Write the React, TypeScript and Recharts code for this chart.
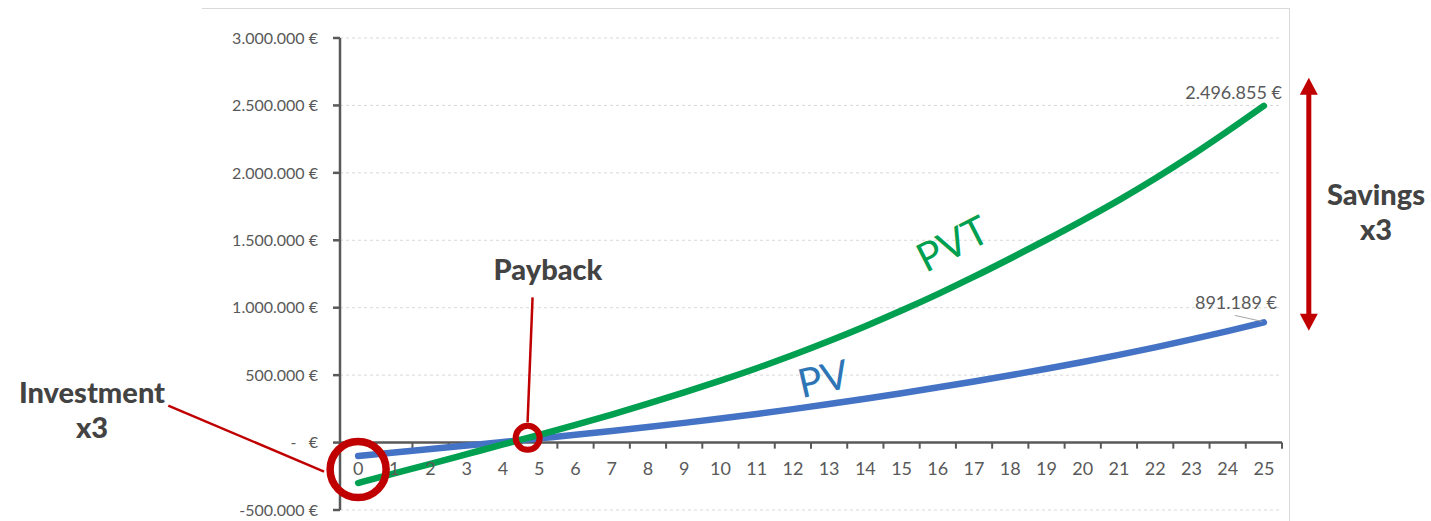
import React from 'react';
import {
  LineChart,
  Line,
  XAxis,
  YAxis,
  CartesianGrid,
  ReferenceLine,
  ReferenceDot,
  LabelList,
} from 'recharts';

// years of the study
const years = [0, 1, 2, 3, 4, 5, 6, 7, 8, 9, 10, 11, 12, 13, 14, 15, 16, 17, 18, 19, 20, 21, 22, 23, 24, 25];

// cumulative cash flow, EUR
const pvtValues = [
  -300000, -229000, -158000, -86000, -14000, 57000, 131000, 208000, 288000, 372000, 459000, 551000, 649000,
  753000, 863000, 979000, 1101000, 1230000, 1365000, 1504000, 1648000, 1798000, 1958000, 2128000, 2309000,
  2496855,
];
const pvValues = [
  -100000, -74000, -48000, -22000, 4000, 31000, 58000, 86000, 115000, 146000, 178000, 212000, 248000, 286000,
  325000, 366000, 409000, 453000, 499000, 547000, 597000, 650000, 706000, 765000, 827000, 891189,
];

const yTicks = [-500000, 0, 500000, 1000000, 1500000, 2000000, 2500000, 3000000];

// annotation anchors in data units
const paybackPoint = { x: 4.68, y: 35000 };
const investmentPoint = { x: 0, y: -200000 };
const paybackLeader = [{ x: 4.815, y: 1077000 }, { x: 4.677, y: 150000 }];
const investmentLeader = [{ x: -5.24, y: 274000 }, { x: -0.94, y: -215000 }];
const savingsArrow = [{ x: 26.24, y: 2706000 }, { x: 26.24, y: 830000 }];

const GREEN = '#00a050';
const BLUE = '#4472c4';
const RED = '#c00000';
const AXIS = '#595959';
const FONT = 'Lato, "Open Sans", sans-serif';

const chartData = years.map((year, i) => ({ year, pvt: pvtValues[i], pv: pvValues[i] }));
const tickEdges = [...years.map((y) => y - 0.5), years[years.length - 1] + 0.5];

function formatEuro(v: number) {
  if (v === 0) return '-\u00a0\u00a0\u00a0€';
  const s = String(Math.abs(v)).replace(/\B(?=(\d{3})+(?!\d))/g, '.');
  return `${v < 0 ? '-' : ''}${s} €`;
}

const PvtEndLabel = (props: any) => {
  const { x, y, value } = props;
  if (value !== pvtValues[pvtValues.length - 1]) return null;
  return (
    <text x={x + 18} y={y - 7} textAnchor="end" fill={AXIS} fontSize={18} fontFamily={FONT}>
      {formatEuro(value)}
    </text>
  );
};

const PvEndLabel = (props: any) => {
  const { x, y, value } = props;
  if (value !== pvValues[pvValues.length - 1]) return null;
  return (
    <g>
      <line x1={x - 29} y1={y - 7} x2={x - 2} y2={y - 1} stroke="#a6a6a6" strokeWidth={1} />
      <text x={x + 13} y={y - 13} textAnchor="end" fill={AXIS} fontSize={18} fontFamily={FONT}>
        {formatEuro(value)}
      </text>
    </g>
  );
};

const DoubleArrow = (props: any) => {
  const { x1, y1, x2, y2 } = props;
  const head = 17;
  const half = 9;
  return (
    <g>
      <line x1={x1} y1={y1 + head - 2} x2={x2} y2={y2 - head + 2} stroke={RED} strokeWidth={5} />
      <polygon points={`${x1},${y1} ${x1 - half},${y1 + head} ${x1 + half},${y1 + head}`} fill={RED} />
      <polygon points={`${x2},${y2} ${x2 - half},${y2 - head} ${x2 + half},${y2 - head}`} fill={RED} />
    </g>
  );
};

export default function App() {
  return (
    <div style={{ position: 'absolute', left: 0, top: 0, width: 1431, height: 521, background: '#fff', overflow: 'hidden' }}>
      <div
        style={{
          position: 'absolute',
          left: 202,
          top: 8,
          width: 1087,
          height: 520,
          borderTop: '1px solid #d9d9d9',
          borderRight: '1px solid #d9d9d9',
        }}
      />
      <div style={{ position: 'absolute', left: 0, top: 0 }}>
        <LineChart width={1431} height={521} data={chartData} margin={{ top: 38, right: 149, bottom: 11, left: 0 }}>
          <CartesianGrid vertical={false} stroke="#d9d9d9" strokeDasharray="3 3" />
          <XAxis dataKey="year" type="number" domain={[-0.5, 25.5]} hide allowDataOverflow />
          <YAxis
            type="number"
            domain={[-500000, 3000000]}
            ticks={yTicks}
            interval={0}
            width={340}
            tickFormatter={formatEuro}
            tickSize={7}
            tickMargin={15}
            axisLine={{ stroke: AXIS, strokeWidth: 2.5 }}
            tickLine={{ stroke: AXIS, strokeWidth: 2.5 }}
            tick={{ fill: AXIS, fontSize: 16, fontFamily: FONT }}
            allowDataOverflow
          />
          <ReferenceLine y={0} stroke={AXIS} strokeWidth={2.5} />
          {tickEdges.map((x) => (
            <ReferenceLine
              key={`edge-${x}`}
              segment={[
                { x, y: 0 },
                { x, y: -45000 },
              ]}
              stroke={AXIS}
              strokeWidth={2}
              ifOverflow="visible"
            />
          ))}
          {years.map((y) => (
            <ReferenceDot
              key={`lab-${y}`}
              x={y}
              y={0}
              r={0}
              fill="none"
              stroke="none"
              ifOverflow="visible"
              label={{ value: String(y), position: 'bottom', offset: 20, fill: AXIS, fontSize: 18, fontFamily: FONT }}
            />
          ))}
          <Line
            type="monotone"
            dataKey="pv"
            stroke={BLUE}
            strokeWidth={6.5}
            strokeLinecap="round"
            dot={false}
            isAnimationActive={false}
          >
            <LabelList dataKey="pv" content={PvEndLabel} />
          </Line>
          <Line
            type="monotone"
            dataKey="pvt"
            stroke={GREEN}
            strokeWidth={6.5}
            strokeLinecap="round"
            dot={false}
            isAnimationActive={false}
          >
            <LabelList dataKey="pvt" content={PvtEndLabel} />
          </Line>
          <ReferenceLine segment={paybackLeader} stroke={RED} strokeWidth={2.5} ifOverflow="visible" />
          <ReferenceLine segment={investmentLeader} stroke={RED} strokeWidth={2.5} ifOverflow="visible" />
          <ReferenceLine segment={savingsArrow} ifOverflow="visible" shape={DoubleArrow} />
          <ReferenceDot
            x={paybackPoint.x}
            y={paybackPoint.y}
            r={12}
            fill="none"
            stroke={RED}
            strokeWidth={6}
            ifOverflow="visible"
          />
          <ReferenceDot
            x={investmentPoint.x}
            y={investmentPoint.y}
            r={28}
            fill="none"
            stroke={RED}
            strokeWidth={7.5}
            ifOverflow="visible"
          />
        </LineChart>
      </div>
      <svg width={1431} height={521} style={{ position: 'absolute', left: 0, top: 0, pointerEvents: 'none' }}>
        <g fontFamily={FONT} fontWeight={900} fontSize={29} fill="#434343" textAnchor="middle">
          <text x={548} y={280}>Payback</text>
          <text x={92} y={403}>Investment</text>
          <text x={92} y={438}>x3</text>
          <text x={1376} y={205}>Savings</text>
          <text x={1376} y={240}>x3</text>
        </g>
        <text
          x={952}
          y={243}
          transform="rotate(-27 952 243)"
          textAnchor="middle"
          dominantBaseline="central"
          fontFamily={FONT}
          fontWeight={400}
          fontSize={40}
          fill={GREEN}
        >
          PVT
        </text>
        <text
          x={823}
          y={378}
          transform="rotate(-13 823 378)"
          textAnchor="middle"
          dominantBaseline="central"
          fontFamily={FONT}
          fontWeight={400}
          fontSize={40}
          fill="#2e75b6"
        >
          PV
        </text>
      </svg>
    </div>
  );
}
